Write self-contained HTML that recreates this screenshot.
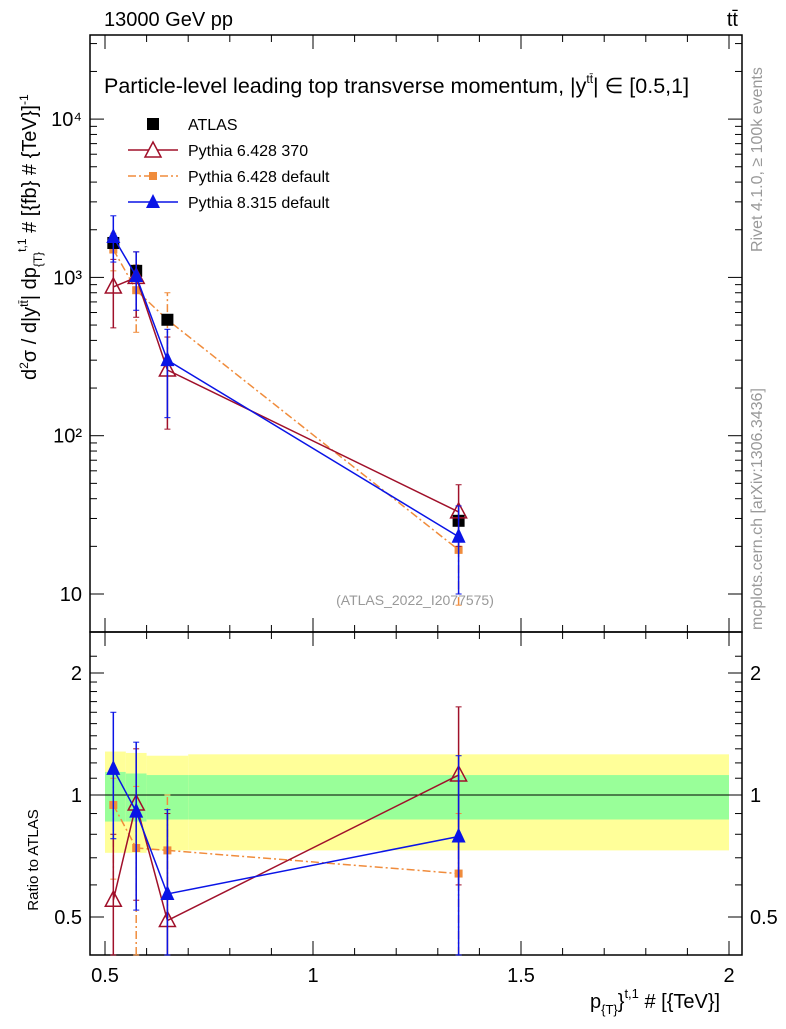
<!DOCTYPE html>
<html><head><meta charset="utf-8"><style>
body{margin:0;background:#fff;}
svg text{font-family:"Liberation Sans",sans-serif;}
</style></head><body>
<svg id="c" width="786" height="1024" xmlns="http://www.w3.org/2000/svg"></svg>
<script>
const xVals=[0.52,0.575,0.65,1.35];
const atlas=[1650,1100,540,29];
const py6370=[870,1000,260,33];
const py6370Lo=[480,560,110,20];
const py6370Hi=[1300,1450,420,49];
const py6def=[1500,830,540,19];
const py6defLo=[1100,450,300,8.5];
const py6defHi=[1900,1200,800,30];
const py8=[1800,1020,300,23];
const py8Lo=[1250,620,130,10];
const py8Hi=[2450,1450,470,36];
const rEdges=[0.5,0.55,0.6,0.7,2.0];
const yelLo=[0.72,0.72,0.73,0.73];
const yelHi=[1.28,1.27,1.25,1.26];
const grnLo=[0.86,0.86,0.87,0.87];
const grnHi=[1.14,1.13,1.12,1.12];
const r6370=[0.55,0.95,0.49,1.12];
const r6370Lo=[0.3,0.55,0.3,0.6];
const r6370Hi=[0.8,1.3,0.9,1.65];
const r6def=[0.945,0.74,0.73,0.64];
const r6defLo=[0.62,0.3,0.5,0.35];
const r6defHi=[1.1,1.05,1.0,0.9];
const r8=[1.16,0.91,0.57,0.79];
const r8Lo=[0.78,0.52,0.3,0.3];
const r8Hi=[1.6,1.35,0.92,1.25];
const xTicks=[0.5,1,1.5,2];
const xTickLabels=["0.5","1","1.5","2"];

const NS="http://www.w3.org/2000/svg";
const svg=document.getElementById('c');
const L=90,R=742,T=35,M=632,B=955;
const X=v=>105+(v-0.5)*416;
const Y=v=>594-(Math.log10(v)-1)*158.3;
const YR=v=>795-Math.log2(v)*122;
function el(t,a,p){const e=document.createElementNS(NS,t);for(const k in a)e.setAttribute(k,a[k]);(p||svg).appendChild(e);return e;}
function tx(x,y,s,a,p){const e=el('text',Object.assign({x:x,y:y},a||{}),p);e.textContent=s;return e;}
function rich(x,y,parts,a){const e=el('text',Object.assign({x:x,y:y},a||{}));parts.forEach(([s,dy,fs])=>{const t=el('tspan',{dy:dy||0},e);if(fs)t.setAttribute('font-size',fs);t.textContent=s;});return e;}

for(let i=0;i<4;i++){
 const b=el('rect',{x:X(rEdges[i]),y:YR(yelHi[i]),width:X(rEdges[i+1])-X(rEdges[i]),height:YR(yelLo[i])-YR(yelHi[i]),fill:'#ffff99'});
 
 
 const g=el('rect',{x:X(rEdges[i]),y:YR(grnHi[i]),width:X(rEdges[i+1])-X(rEdges[i]),height:YR(grnLo[i])-YR(grnHi[i]),fill:'#99ff99'});
 
 
}
el('line',{x1:L,x2:R,y1:YR(1),y2:YR(1),stroke:'#000','stroke-width':1});

el('rect',{x:L,y:T,width:R-L,height:M-T,fill:'none',stroke:'#000','stroke-width':1.5});
el('rect',{x:L,y:M,width:R-L,height:B-M,fill:'none',stroke:'#000','stroke-width':1.5});

for(let d=1;d<=4;d++){for(let m=1;m<10;m++){const v=m*Math.pow(10,d);const y=Y(v);if(y<T||y>M)continue;const len=m==1?14:7;
 el('line',{x1:L,x2:L+len,y1:y,y2:y,stroke:'#000'});el('line',{x1:R,x2:R-len,y1:y,y2:y,stroke:'#000'});}}
[[10,"10"],[100,"10²"],[1000,"10³"],[10000,"10⁴"]].forEach(([v,s])=>{const t=tx(L-8,Y(v)+7,s,{'font-size':20,'text-anchor':'end'});});
[0.4,0.5,0.6,0.7,0.8,0.9,1,1.1,1.2,1.3,1.4,1.5,1.6,1.7,1.8,1.9,2,2.2].forEach(v=>{const y=YR(v);if(y<M||y>B)return;const len=(v==0.5||v==1||v==2)?14:7;
 el('line',{x1:L,x2:L+len,y1:y,y2:y,stroke:'#000'});el('line',{x1:R,x2:R-len,y1:y,y2:y,stroke:'#000'});});
[[0.5,"0.5"],[1,"1"],[2,"2"]].forEach(([v,s])=>{tx(L-8,YR(v)+7,s,{'font-size':20,'text-anchor':'end'});tx(R+8,YR(v)+7,s,{'font-size':20});});
for(let v=0.5;v<=2.001;v+=0.1){const x=X(v);const maj=Math.abs(v*2-Math.round(v*2))<1e-6;const len=maj?14:7;
 [[M,1],[B,-1],[T,1],[M,-1]].forEach(([y0,s])=>el('line',{x1:x,x2:x,y1:y0,y2:y0+s*len,stroke:'#000'}));}
xTicks.forEach((v,i)=>tx(X(v),982,xTickLabels[i],{'font-size':20,'text-anchor':'middle'}));

function series(vals,lo,hi,Yf,color,dash,marker,name,noline){
 const g=el('g',{});
 if(!noline)el('polyline',{points:vals.map((v,i)=>X(xVals[i])+','+Yf(v)).join(' '),fill:'none',stroke:color,'stroke-width':1.5,'stroke-dasharray':dash||''},g);
 vals.forEach((v,i)=>{const x=X(xVals[i]);
  if(lo){const y1=Math.min(Yf(lo[i]),B),y2=Math.max(Yf(hi[i]),T);el('line',{x1:x,x2:x,y1:y1,y2:y2,stroke:color,'stroke-width':1.5,'stroke-dasharray':dash||''},g);
   el('line',{x1:x-3,x2:x+3,y1:y1,y2:y1,stroke:color},g);el('line',{x1:x-3,x2:x+3,y1:y2,y2:y2,stroke:color},g);}
  const y=Yf(v);
  if(marker=='sq')el('rect',{x:x-6,y:y-6,width:12,height:12,fill:'#000'},g);
  else if(marker=='osq')el('rect',{x:x-4,y:y-4,width:8,height:8,fill:'#f08c3c'},g);
  else if(marker=='otri')el('polygon',{points:`${x},${y-9} ${x-8},${y+6} ${x+8},${y+6}`,fill:'none',stroke:color,'stroke-width':1.5},g);
  else el('polygon',{points:`${x},${y-9} ${x-7},${y+6} ${x+7},${y+6}`,fill:color},g);
 });
}
series(py6def,py6defLo,py6defHi,Y,'#f08c3c','8,3,2,3','osq','pythia6-default-series');
series(atlas,null,null,Y,'#000','','sq','atlas-data',true);
series(py6370,py6370Lo,py6370Hi,Y,'#a0102a','','otri','pythia6-370-series');
series(py8,py8Lo,py8Hi,Y,'#0a14e6','','tri','pythia8-series');
series(r6def,r6defLo,r6defHi,YR,'#f08c3c','8,3,2,3','osq','ratio-pythia6-default');
series(r6370,r6370Lo,r6370Hi,YR,'#a0102a','','otri','ratio-pythia6-370');
series(r8,r8Lo,r8Hi,YR,'#0a14e6','','tri','ratio-pythia8');

const lg=el('g',{});
el('rect',{x:147,y:118,width:12,height:12,fill:'#000'},lg);tx(188,130,'ATLAS',{'font-size':16},lg);
el('line',{x1:128,x2:178,y1:150,y2:150,stroke:'#a0102a','stroke-width':1.5},lg);el('polygon',{points:'153,142 145,157 161,157',fill:'#fff',stroke:'#a0102a','stroke-width':1.5},lg);tx(188,156,'Pythia 6.428 370',{'font-size':16},lg);
el('line',{x1:128,x2:178,y1:176,y2:176,stroke:'#f08c3c','stroke-width':1.5,'stroke-dasharray':'8,3,2,3'},lg);el('rect',{x:149,y:172,width:8,height:8,fill:'#f08c3c'},lg);tx(188,182,'Pythia 6.428 default',{'font-size':16},lg);
el('line',{x1:128,x2:178,y1:202,y2:202,stroke:'#0a14e6','stroke-width':1.5},lg);el('polygon',{points:'153,194 146,208 160,208',fill:'#0a14e6'},lg);tx(188,208,'Pythia 8.315 default',{'font-size':16},lg);

tx(104,26,'13000 GeV pp',{'font-size':20});
tx(738,26,'tt̄',{'font-size':20,'text-anchor':'end'});
rich(104,93,[['Particle-level leading top transverse momentum, |y'],['tt̄',-10,12],['| ∈ [0.5,1]',10]],{'font-size':21.5});
tx(415,605,'(ATLAS_2022_I2077575)',{'font-size':14,fill:'#999','text-anchor':'middle'});
tx(0,0,'Rivet 4.1.0, ≥ 100k events',{'font-size':16,fill:'#999',transform:'translate(762,252) rotate(-90)'});
tx(0,0,'mcplots.cern.ch [arXiv:1306.3436]',{'font-size':16,fill:'#999',transform:'translate(762,630) rotate(-90)'});
rich(0,0,[['d'],['2',-8,12],['σ / d|y',8],['tt̄',-8,12],['| dp',8],['{T}',6,12],['t,1',-16,12],[' # [{fb} # {TeV}]',10],['-1',-8,12]],{'font-size':20,transform:'translate(36,380) rotate(-90)'});
tx(0,0,'Ratio to ATLAS',{'font-size':15,transform:'translate(38,860) rotate(-90)','text-anchor':'middle'});
rich(590,1008,[['p'],['{T}',6,13],['}',-6],['t,1',-10,13],[' # [{TeV}]',10]],{'font-size':20});
</script>
</body></html>
